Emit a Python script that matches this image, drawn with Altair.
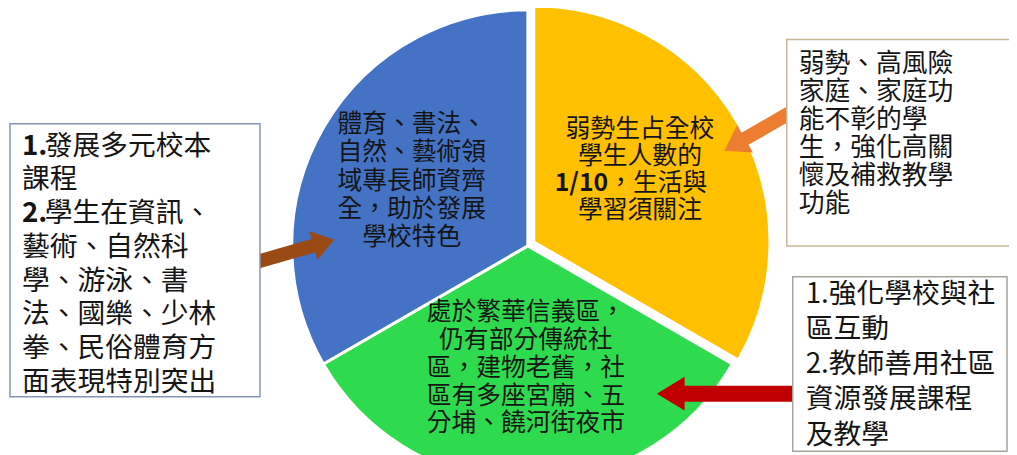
import altair as alt
import pandas as pd

# ---------------- data ----------------
slice_names = ["弱勢學生", "社區環境", "師資特色"]
slice_values = [1, 1, 1]
slice_colors = ["#FFC000", "#2EDB4E", "#4472C4"]

blue_lines = ["體育、書法、", "自然、藝術領", "域專長師資齊", "全，助於發展", "學校特色"]
yellow_lines = ["弱勢生占全校", "學生人數的", "1/10，生活與", "學習須關注"]
green_lines = ["處於繁華信義區，", "仍有部分傳統社", "區，建物老舊，社", "區有多座宮廟、五", "分埔、饒河街夜市"]
left_lines = ["1.發展多元校本", "課程", "2.學生在資訊、", "藝術、自然科", "學、游泳、書",
              "法、國樂、少林", "拳、民俗體育方", "面表現特別突出"]
top_right_lines = ["弱勢、高風險", "家庭、家庭功", "能不彰的學", "生，強化高關", "懷及補救教學", "功能"]
bottom_right_lines = ["1.強化學校與社", "區互動", "2.教師善用社區", "資源發展課程", "及教學"]

# ---------------- layout helpers ----------------
FONT = "Noto Sans CJK TC"
OFF = 8  # page margin


def X(v):
    return v - OFF


def Y(v):
    return v - OFF


CX, CY, R = 532, 246, 238


def text_block(lines, x, y0, dy, size, align="center", weight="normal", color="#151515", skip_empty=True):
    df = pd.DataFrame({"line": lines, "i": list(range(len(lines)))})
    ch = alt.Chart(df)
    if skip_empty:
        ch = ch.transform_filter("datum.line != ''")
    return (ch.transform_calculate(py=f"{Y(y0)} + datum.i * {dy}")
            .mark_text(align=align, baseline="middle", font=FONT, fontSize=size,
                       fontWeight=weight, color=color)
            .encode(x=alt.value(X(x)), y=alt.Y("py:Q", scale=None, axis=None), text="line:N"))


def arrow_path(length, shaft, head_w, head_len):
    h = length / 2.0
    hx = -1 + head_len / h
    s = shaft / 2.0 / h
    w = head_w / 2.0 / h
    return (f"M -1 0 L {hx:.4f} {-w:.4f} L {hx:.4f} {-s:.4f} L 1 {-s:.4f} "
            f"L 1 {s:.4f} L {hx:.4f} {s:.4f} L {hx:.4f} {w:.4f} Z")


def arrow(tail, tip, shaft, head_w, head_len, color, angle):
    import math
    length = math.hypot(tip[0] - tail[0], tip[1] - tail[1])
    mx = (tail[0] + tip[0]) / 2.0
    my = (tail[1] + tip[1]) / 2.0
    return (alt.Chart(pd.DataFrame({"a": [0]}))
            .mark_point(shape=arrow_path(length, shaft, head_w, head_len), size=length ** 2,
                        angle=angle, filled=True, color=color, opacity=1, strokeWidth=0)
            .encode(x=alt.value(X(mx)), y=alt.value(Y(my))))


def box(x1, y1, x2, y2, stroke):
    return (alt.Chart(pd.DataFrame({"a": [0]}))
            .mark_rect(fill="white", stroke=stroke, strokeWidth=1.5)
            .encode(x=alt.value(X(x1)), x2=alt.value(X(x2)), y=alt.value(Y(y1)), y2=alt.value(Y(y2))))


# ---------------- pie ----------------
pie_df = pd.DataFrame({"slice": slice_names, "value": slice_values})
pie = (alt.Chart(pie_df)
       .transform_window(idx="row_number()")
       .transform_calculate(
           cx=f"datum.idx == 1 ? {X(CX + 6)} : {X(CX)}",
           cy=f"datum.idx == 1 ? {Y(CY - 4)} : {Y(CY)}")
       .mark_arc(radius=R, stroke="white", strokeWidth=3)
       .encode(theta=alt.Theta("value:Q", stack=True),
               order=alt.Order("idx:Q"),
               color=alt.Color("slice:N", scale=alt.Scale(domain=slice_names, range=slice_colors), legend=None),
               x=alt.X("cx:Q", scale=None, axis=None),
               y=alt.Y("cy:Q", scale=None, axis=None)))

# pie texts
blue_txt = text_block(blue_lines, 415, 123, 28.6, 25)
green_txt = text_block(green_lines, 530, 313, 28, 25)
# yellow: the "1/10" prefix is bold
y_plain = [ln if not ln.startswith("1/10") else "" for ln in yellow_lines]
y_bold_pre = [ln[:4] if ln.startswith("1/10") else "" for ln in yellow_lines]
y_bold_rest = [ln[4:] if ln.startswith("1/10") else "" for ln in yellow_lines]
yellow_txt = text_block(y_plain, 645, 128, 27.3, 25)
yellow_pre = text_block(y_bold_pre, 613, 128, 27.3, 25, align="right", weight="bold")
yellow_rest = text_block(y_bold_rest, 613, 128, 27.3, 25, align="left")

# arrows
brown = arrow((258, 262), (337, 240), 14, 30, 22, "#9A4A14", 164)
orange = arrow((805, 107), (730, 150), 14, 32, 24, "#ED7D31", 330)
red = arrow((800, 395), (662, 395), 16, 34, 28, "#C00000", 0)

# boxes
left_box = box(10, 123, 262, 398, "#8497B0")
tr_box = box(793, 38, 1030, 246, "#C8B795")
br_box = box(799, 277, 1015, 453, "#A0A89A")

# left box text (bold numbering)
l_pre = [ln[:2] if ln[:1].isdigit() else "" for ln in left_lines]
l_rest = [ln[2:] if ln[:1].isdigit() else "" for ln in left_lines]
l_plain = [ln if not ln[:1].isdigit() else "" for ln in left_lines]
left_pre = text_block(l_pre, 22, 146, 34, 28, align="left", weight="bold")
left_rest = text_block(l_rest, 45, 146, 34, 28, align="left")
left_plain = text_block(l_plain, 22, 146, 34, 28, align="left")

tr_txt = text_block(top_right_lines, 805, 63, 28.2, 26, align="left")
br_txt = text_block(bottom_right_lines, 812, 296, 35.3, 28, align="left")

chart = (alt.layer(pie, blue_txt, green_txt, yellow_txt, yellow_pre, yellow_rest,
                   brown, orange, red, left_box, tr_box, br_box,
                   left_pre, left_rest, left_plain, tr_txt, br_txt)
         .properties(width=1009, height=447, autosize=alt.AutoSizeParams(type="none"), padding=0)
         .configure_view(stroke=None))

chart.save("out.html", embed_options={"renderer": "svg", "actions": False})
